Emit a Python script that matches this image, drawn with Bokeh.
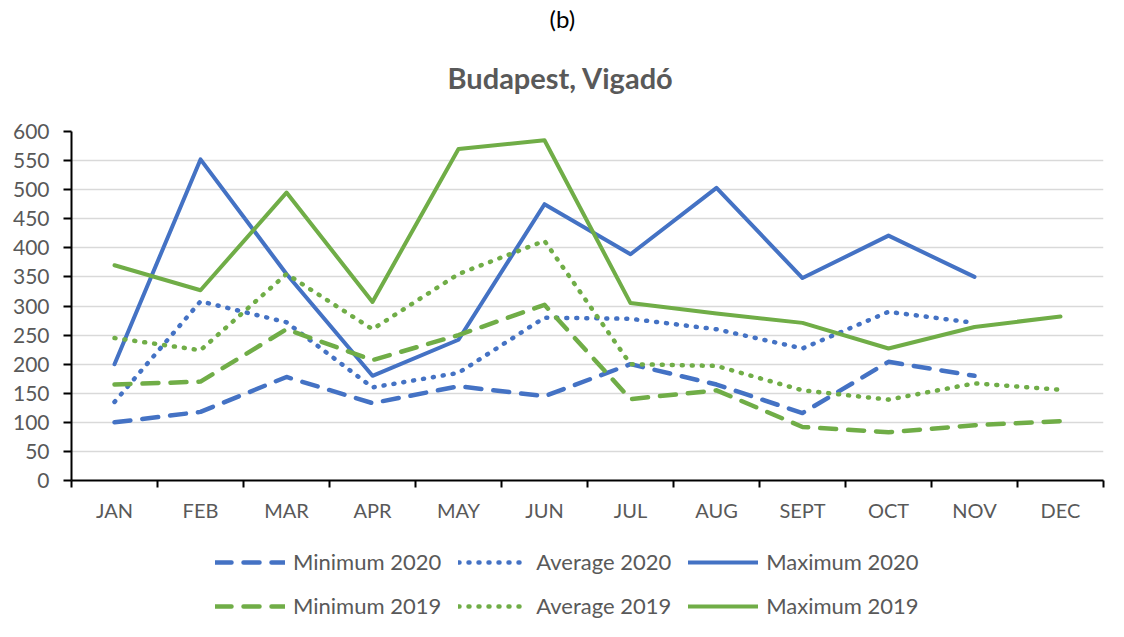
from bokeh.plotting import figure
from bokeh.layouts import column
from bokeh.models import (FixedTicker, Legend, LegendItem, Range1d, ColumnDataSource, Title)
from bokeh.embed import file_html
from bokeh.resources import INLINE

months = ["JAN", "FEB", "MAR", "APR", "MAY", "JUN", "JUL", "AUG", "SEPT", "OCT", "NOV", "DEC"]

min_2020 = [100, 118, 178, 133, 162, 145, 200, 165, 116, 204, 180]
avg_2020 = [135, 308, 272, 160, 185, 280, 278, 260, 227, 290, 271]
max_2020 = [200, 552, 355, 180, 242, 475, 389, 503, 348, 421, 350]
min_2019 = [165, 170, 260, 207, 250, 302, 140, 155, 92, 83, 95, 102]
avg_2019 = [245, 224, 355, 260, 355, 412, 200, 197, 155, 139, 167, 156]
max_2019 = [370, 327, 495, 307, 570, 585, 305, 287, 271, 227, 264, 282]

y_ticks = list(range(0, 601, 50))

BLUE = "#4472C4"
GREEN = "#70AD47"
GRAY = "#595959"
FONT = "Lato"

p = figure(frame_width=1032, frame_height=349, output_backend="svg", toolbar_location=None,
           x_range=Range1d(0, 12), y_range=Range1d(0, 600),
           min_border_left=71, min_border_right=13, min_border_top=131, min_border_bottom=60)
p.title = None
p.outline_line_color = None
p.background_fill_color = "white"
p.border_fill_color = "white"
p.xgrid.grid_line_color = None
p.ygrid.grid_line_color = "#D9D9D9"
p.ygrid.grid_line_width = 1.5

centers = [i + 0.5 for i in range(len(months))]
xa = p.xaxis[0]
xa.ticker = FixedTicker(ticks=centers, minor_ticks=list(range(len(months) + 1)))
xa.major_label_overrides = {c: m for c, m in zip(centers, months)}
xa.major_tick_out = 0
xa.major_tick_in = 0
xa.minor_tick_out = 7
xa.minor_tick_in = 0
xa.minor_tick_line_color = "black"
xa.minor_tick_line_width = 2
xa.axis_line_color = "black"
xa.axis_line_width = 2
xa.major_label_text_font = FONT
xa.major_label_text_font_size = "20px"
xa.major_label_text_color = GRAY
xa.major_label_standoff = 10

ya = p.yaxis[0]
ya.ticker = FixedTicker(ticks=y_ticks, minor_ticks=[])
ya.major_tick_out = 8
ya.major_tick_in = 0
ya.major_tick_line_color = "black"
ya.major_tick_line_width = 2
ya.axis_line_color = "black"
ya.axis_line_width = 2
ya.major_label_text_font = FONT
ya.major_label_text_font_size = "21px"
ya.major_label_text_color = GRAY
ya.major_label_standoff = 14

series = [
    ("Minimum 2020", min_2020, BLUE, "16 12"),
    ("Average 2020", avg_2020, BLUE, "1 9"),
    ("Maximum 2020", max_2020, BLUE, "solid"),
    ("Minimum 2019", min_2019, GREEN, "16 12"),
    ("Average 2019", avg_2019, GREEN, "1 9"),
    ("Maximum 2019", max_2019, GREEN, "solid"),
]

# legend strip below the chart (its lines fall outside its own ranges, only the legend shows)
pl = figure(frame_width=1116, frame_height=90, output_backend="svg", toolbar_location=None,
            x_range=Range1d(0, 1), y_range=Range1d(-2, -1),
            min_border_left=0, min_border_right=0, min_border_top=0, min_border_bottom=0)
pl.axis.visible = False
pl.grid.visible = False
pl.outline_line_color = None
pl.background_fill_color = "white"
pl.border_fill_color = "white"

items = []
for name, vals, color, dash in series:
    lw = 4.5 if dash != "solid" else 4
    src = ColumnDataSource(dict(x=centers[:len(vals)], y=vals))
    p.line("x", "y", source=src, line_color=color, line_width=lw,
           line_dash=dash, line_cap="round", line_join="round")
    lr = pl.line("x", "y", source=src, line_color=color, line_width=lw,
                 line_dash=dash, line_cap="round", line_join="round")
    items.append(LegendItem(label=name, renderers=[lr]))

legend = Legend(items=items, orientation="horizontal", ncols=3, location=(215, 11),
                glyph_width=70, glyph_height=24, label_height=24, label_standoff=8,
                spacing=17, padding=0, margin=0, border_line_color=None,
                background_fill_alpha=0, label_text_font=FONT,
                label_text_font_size="22px", label_text_color=GRAY)
pl.add_layout(legend, "center")

p.add_layout(Title(text="Budapest, Vigadó", align="left", offset=376, text_font=FONT,
                   text_font_size="29px", text_font_style="bold", text_color=GRAY,
                   standoff=74), "above")
p.add_layout(Title(text="(b)", align="left", offset=478, text_font=FONT,
                   text_font_size="24px", text_font_style="normal", text_color="black",
                   standoff=-24), "above")

layout = column(p, pl, spacing=0)
open("out.html", "w").write(file_html(layout, INLINE))
